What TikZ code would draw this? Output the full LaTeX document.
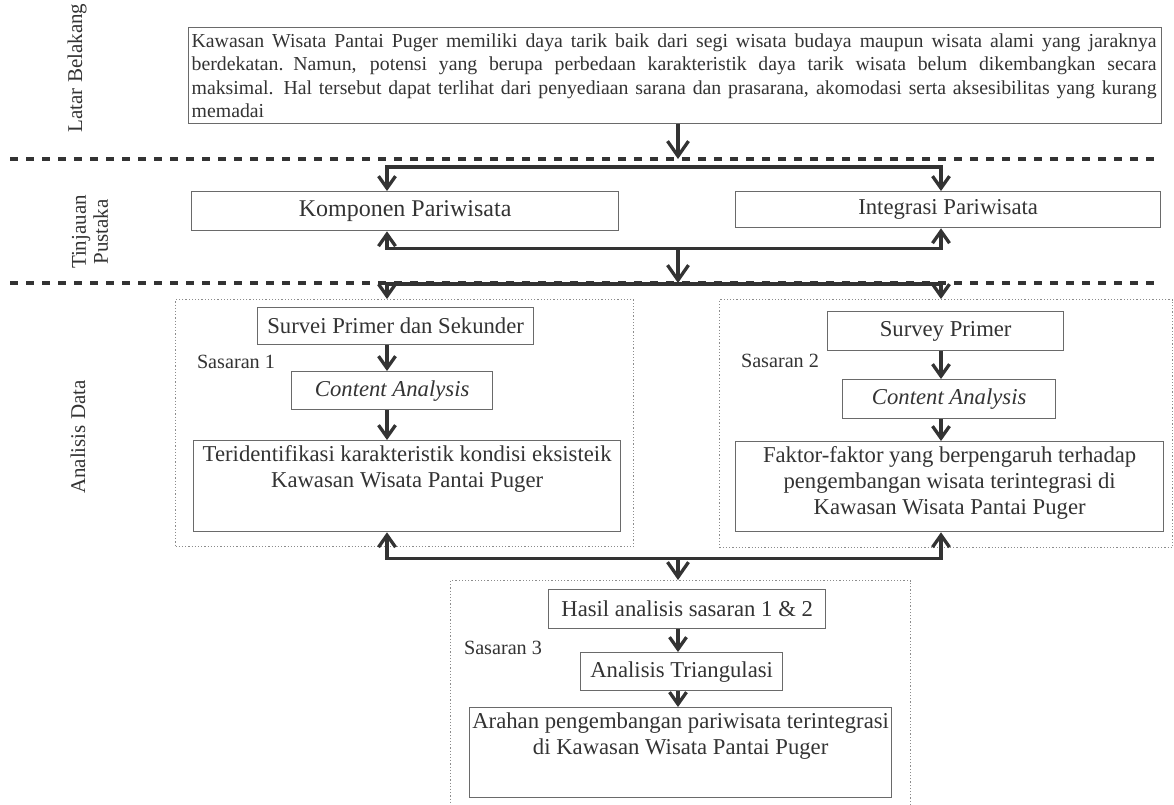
\documentclass[tikz,border=0pt]{standalone}
\usepackage{fontspec}
\setmainfont{Liberation Serif}
\usepackage{tikz}
\usetikzlibrary{arrows.meta}
\definecolor{tinta}{HTML}{333333}
\definecolor{garisbox}{HTML}{6A6A6A}
\definecolor{titik}{HTML}{8C8C8C}
\tikzset{>={Straight Barb[length=12pt,width=17pt]}}
\tikzset{
  kotak/.style={draw=garisbox,line width=1.3pt,text=tinta,inner sep=0pt,anchor=north west,
    font=\fontsize{22.7}{26}\selectfont},
  bingkai/.style={draw=titik,line width=1pt,dash pattern=on 1.2pt off 2pt,inner sep=0pt,anchor=north west},
  panah/.style={draw=tinta,line width=3.3pt,->},
  panahbesar/.style={panah,>={Straight Barb[length=15pt,width=21pt]}},
  pemisah/.style={draw=tinta,line width=4pt,dash pattern=on 8pt off 8pt},
  judul/.style={rotate=90,text=tinta,font=\fontsize{21}{22}\selectfont,align=center},
  sasaran/.style={text=tinta,font=\fontsize{20.2}{22}\selectfont}
}
\newcommand{\isiatas}[3]{\parbox[t][#2][t]{#1}{\centering #3}}
\newcommand{\baris}[1]{\makebox[965pt][s]{\spaceskip=0.25em plus 1em minus 0.08em #1}}

\begin{document}
\begin{tikzpicture}[x=1pt,y=-1pt]
    \useasboundingbox (0,0) rectangle (1174,804);
    % garis pemisah antar bagian
    \foreach \y/\n in {159/g1,283/g2} {
      \coordinate (\n a) at (10,\y);
      \coordinate (\n b) at (1160,\y);
      \draw[pemisah] (\n a) -- (\n b);
    }
    \coordinate (xL) at (387,0);
    \coordinate (xM) at (678,0);
    \coordinate (xR) at (941,0);

    \node[judul] (jlatar) at (77,68) {Latar Belakang};
    \node[judul] (jtinjau) at (90,232) {Tinjauan\\Pustaka};
    \node[judul] (janalisis) at (78,437) {Analisis Data};

    % bingkai sasaran
    \node[bingkai,minimum width=458pt,minimum height=247pt] (box1) at (175,299) {};
    \node[bingkai,minimum width=453pt,minimum height=248pt] (box2) at (719,299) {};
    \node[bingkai,minimum width=460pt,minimum height=270pt] (box3) at (450,580) {};

    \node[kotak,font=\fontsize{19.8}{23.4}\selectfont,minimum width=973pt,minimum height=96pt,
      inner xsep=3pt,text width=967pt,align=left] (latar) at (188,27)
      {\baris{Kawasan Wisata Pantai Puger memiliki daya tarik baik dari segi wisata budaya maupun wisata alami yang jaraknya}\\
       \baris{berdekatan. Namun, potensi yang berupa perbedaan karakteristik daya tarik wisata belum dikembangkan secara}\\
       \baris{maksimal. Hal tersebut dapat terlihat dari penyediaan sarana dan prasarana, akomodasi serta aksesibilitas yang kurang}\\
       memadai};

    \node[kotak,font=\fontsize{24}{26}\selectfont,minimum width=427pt,minimum height=39pt] (kompo) at (191,191) {Komponen Pariwisata};
    \node[kotak,minimum width=425pt,minimum height=36pt] (integ) at (735,191) {Integrasi Pariwisata};

    \node[kotak,minimum width=276pt,minimum height=37pt] (survei) at (257,307) {Survei Primer dan Sekunder};
    \node[sasaran] (s1) at (236,362) {Sasaran 1};
    \node[kotak,minimum width=201pt,minimum height=38pt] (ca1) at (291,371) {\textit{Content Analysis}};
    \node[kotak,inner ysep=5pt] (teri) at (193,440)
      {\isiatas{427pt}{81pt}{Teridentifikasi karakteristik kondisi eksisteik\\Kawasan Wisata Pantai Puger}};

    \node[kotak,minimum width=236pt,minimum height=39pt] (survey) at (827,311) {Survey Primer};
    \node[sasaran] (s2) at (780,361) {Sasaran 2};
    \node[kotak,minimum width=213pt,minimum height=39pt] (ca2) at (842,379) {\textit{Content Analysis}};
    \node[kotak,inner ysep=5pt] (faktor) at (735,441)
      {\isiatas{428pt}{80pt}{Faktor-faktor yang berpengaruh terhadap\\pengembangan wisata terintegrasi di\\Kawasan Wisata Pantai Puger}};

    \node[kotak,minimum width=277pt,minimum height=39pt] (hasil) at (548,589) {Hasil analisis sasaran 1 \& 2};
    \node[sasaran] (s3) at (503,648) {Sasaran 3};
    \node[kotak,minimum width=202pt,minimum height=38pt] (tri) at (580,652) {Analisis Triangulasi};
    \node[kotak,inner ysep=5pt] (arahan) at (469,707)
      {\isiatas{422pt}{80pt}{Arahan pengembangan pariwisata terintegrasi\\di Kawasan Wisata Pantai Puger}};

    % alur
    \draw[panahbesar] (latar.south -| xM) -- (g1a -| xM);
    \draw[panah,<->] (kompo.north -| xL) -- ++(0,-24) -| (integ.north -| xR);
    \draw[panah,<->] (kompo.south -| xL) -- ++(0,17) -| (integ.south -| xR);
    \coordinate (simpul1) at (678,249);
    \draw[panahbesar] (simpul1) -- (g2a -| xM);
    \draw[panah,<->] (box1.north -| xL) -- ++(0,-15) -| (box2.north -| xR);
    \draw[panah] (survei.south -| xL) -- (ca1.north -| xL);
    \draw[panah] (ca1.south -| xL) -- (teri.north -| xL);
    \draw[panah] (survey.south -| xR) -- (ca2.north -| xR);
    \draw[panah] (ca2.south -| xR) -- (faktor.north -| xR);
    \draw[panah,<->] (teri.south -| xL) -- ++(0,26) -| (faktor.south -| xR);
    \coordinate (simpul2) at (678,557);
    \draw[panahbesar] (simpul2) -- (box3.north -| xM);
    \draw[panah] (hasil.south -| xM) -- (tri.north -| xM);
    \draw[panah] (tri.south -| xM) -- (arahan.north -| xM);
\end{tikzpicture}
\end{document}
